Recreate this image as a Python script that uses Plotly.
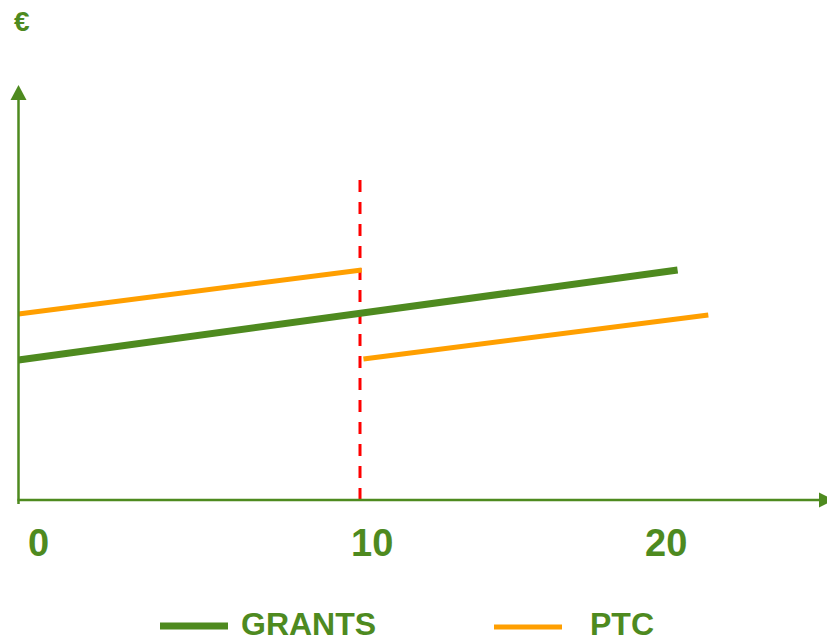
import plotly.graph_objects as go

# data (years on x, value in arbitrary units on y)
grants_x = [0, 19.3]
grants_y = [14.0, 23.0]
ptc_before_x = [0, 10.05]
ptc_before_y = [18.6, 23.0]
ptc_after_x = [10.1, 20.2]
ptc_after_y = [14.1, 18.5]
cutoff_x = [10, 10]
cutoff_y = [0, 32]
tick_labels = ["0", "10", "20"]

GREEN = "#4E8A1F"
ORANGE = "#FF9F00"
RED = "#FF0000"
FONT = "Liberation Sans, Arial, sans-serif"

W, H = 827, 641
X0_PX, X_SCALE = 18.5, 34.15   # pixel of x=0, pixels per year
Y0_PX, Y_SCALE = 500, 10.0     # pixel of y=0, pixels per unit


def px_x(p):
    return (p - X0_PX) / X_SCALE


def px_y(p):
    return (Y0_PX - p) / Y_SCALE


fig = go.Figure()

fig.add_trace(go.Scatter(x=cutoff_x, y=cutoff_y, mode="lines",
                         line=dict(color=RED, width=3, dash="12px,10px"),
                         showlegend=False, hoverinfo="skip"))
fig.add_trace(go.Scatter(x=ptc_before_x, y=ptc_before_y, mode="lines",
                         line=dict(color=ORANGE, width=5), name="PTC",
                         showlegend=False))
fig.add_trace(go.Scatter(x=ptc_after_x, y=ptc_after_y, mode="lines",
                         line=dict(color=ORANGE, width=5), name="PTC",
                         showlegend=False))
fig.add_trace(go.Scatter(x=grants_x, y=grants_y, mode="lines",
                         line=dict(color=GREEN, width=7), name="GRANTS",
                         showlegend=False))


def tri(points):
    return "M " + " L ".join(f"{px_x(a)},{px_y(b)}" for a, b in points) + " Z"


shapes = [
    # axes
    dict(type="line", xref="x", yref="y", x0=0, x1=0, y0=px_y(504), y1=px_y(99),
         line=dict(color=GREEN, width=2.5)),
    dict(type="line", xref="x", yref="y", x0=px_x(17.5), x1=px_x(820), y0=0, y1=0,
         line=dict(color=GREEN, width=2.5)),
    dict(type="path", xref="x", yref="y", path=tri([(18.5, 85), (10.5, 100), (26.5, 100)]),
         fillcolor=GREEN, line=dict(width=0)),
    dict(type="path", xref="x", yref="y", path=tri([(834, 500), (819, 492.5), (819, 507.5)]),
         fillcolor=GREEN, line=dict(width=0)),
    # legend keys
    dict(type="line", xref="x", yref="y", x0=px_x(160), x1=px_x(228),
         y0=px_y(626), y1=px_y(626), line=dict(color=GREEN, width=7)),
    dict(type="line", xref="x", yref="y", x0=px_x(494), x1=px_x(562),
         y0=px_y(627), y1=px_y(627), line=dict(color=ORANGE, width=5)),
]

annotations = []
# euro sign
annotations.append(dict(x=px_x(22), y=px_y(21), text="€", showarrow=False,
                        font=dict(family=FONT, size=28, color=GREEN, weight="bold")))
# tick labels
for lbl, p in zip(tick_labels, [38, 372, 666]):
    annotations.append(dict(x=px_x(p), y=px_y(543), text=lbl, showarrow=False,
                            font=dict(family=FONT, size=38, color=GREEN, weight="bold")))
# legend text
annotations.append(dict(x=px_x(308), y=px_y(624), text="GRANTS", showarrow=False,
                        borderpad=0,
                        font=dict(family=FONT, size=32, color=GREEN, weight="bold")))
annotations.append(dict(x=px_x(622), y=px_y(624), text="PTC", showarrow=False,
                        borderpad=0,
                        font=dict(family=FONT, size=32, color=GREEN, weight="bold")))

fig.update_layout(
    width=W, height=H,
    margin=dict(l=0, r=0, t=0, b=0),
    paper_bgcolor="white", plot_bgcolor="white",
    xaxis=dict(range=[px_x(0), px_x(W)], visible=False, fixedrange=True),
    yaxis=dict(range=[px_y(H), px_y(0)], visible=False, fixedrange=True),
    annotations=annotations,
    shapes=shapes,
    showlegend=False,
)

# drop the page's default body margin so the figure fills the window
fig.write_html("out.html", config={"displayModeBar": False},
               post_script="document.body.style.margin='0px';")
